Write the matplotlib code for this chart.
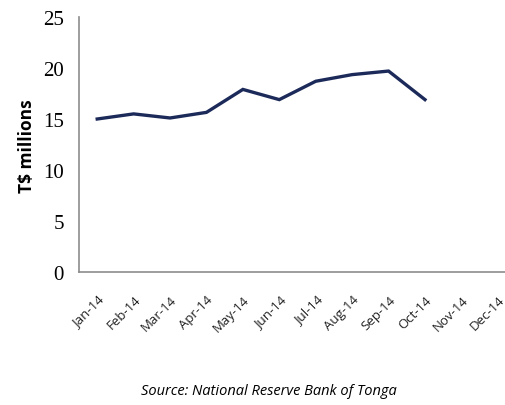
import matplotlib.pyplot as plt

months = ['Jan-14', 'Feb-14', 'Mar-14', 'Apr-14', 'May-14', 'Jun-14',
          'Jul-14', 'Aug-14', 'Sep-14', 'Oct-14', 'Nov-14', 'Dec-14']
values = [15.0, 15.5, 15.1, 15.65, 17.9, 16.9, 18.7, 19.35, 19.7, 16.9]
yticks = [0, 5, 10, 15, 20, 25]

fig = plt.figure(figsize=(5.06, 4.06), dpi=100)
# right edge runs past the figure, as in the reference (axis is cut off)
ax = fig.add_axes([79/506, 133/406, 437/506, 255/406])

ax.plot(range(len(values)), values, color='#1c2a5a', lw=2.4, solid_joinstyle='miter')

ax.set_xlim(-0.5, 11.5)
ax.set_ylim(0, 25)
ax.set_yticks(yticks)
ax.set_yticklabels([str(v) for v in yticks], family='Liberation Serif', fontsize=15)
ax.set_xticks(range(len(months)))
ax.set_xticklabels(months, rotation=45, ha='right', va='top',
                   rotation_mode='anchor', fontsize=9.5, family='Open Sans', color='#222222')
ax.tick_params(axis='both', length=0)
ax.tick_params(axis='x', pad=15)
ax.tick_params(axis='y', pad=11)

for s in ['top', 'right']:
    ax.spines[s].set_visible(False)
for s in ['left', 'bottom']:
    ax.spines[s].set_color('#8c8c8c')
    ax.spines[s].set_linewidth(1.2)

fig.text(27/506, 1 - 146/406, 'T$ millions', rotation=90, ha='center', va='center',
         fontsize=12.5, fontweight='bold', family='Open Sans')
fig.text(269/506, 1 - 392/406, 'Source: National Reserve Bank of Tonga',
         ha='center', va='center', fontsize=10.5, style='italic', family='Open Sans')

fig.savefig('out.png', dpi=100)
